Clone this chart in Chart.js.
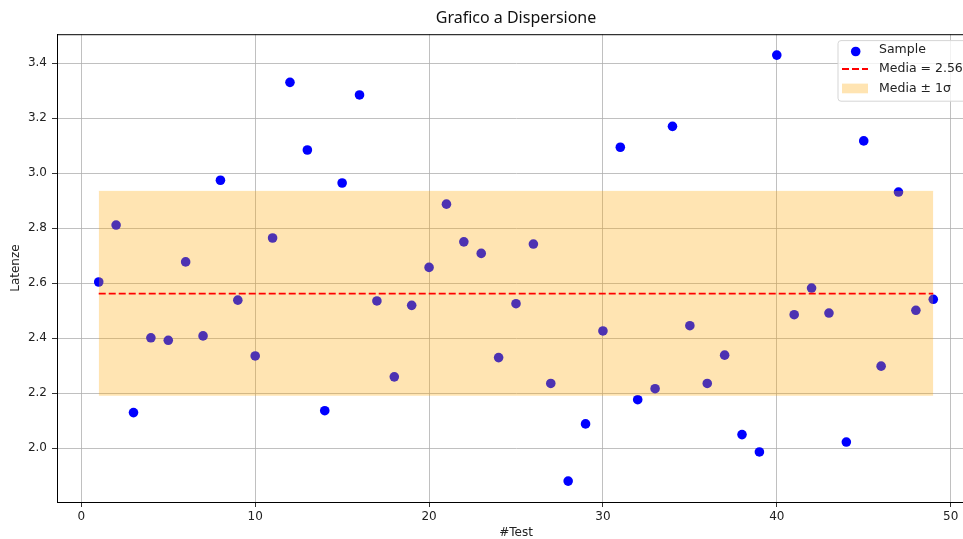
<!DOCTYPE html>
<html>
<head>
<meta charset="utf-8">
<title>Grafico a Dispersione</title>
<script src="https://cdn.jsdelivr.net/npm/chart.js"></script>
<style>
  html, body { margin: 0; padding: 0; background: #fff; overflow: hidden; }
  #wrap { width: 963px; height: 539px; overflow: hidden; }
  canvas { display: block; }
</style>
</head>
<body>
<div id="wrap"><canvas id="chart" width="1032" height="539"></canvas></div>
<script>
const testIds = [1, 2, 3, 4, 5, 6, 7, 8, 9, 10, 11, 12, 13, 14, 15, 16, 17, 18, 19, 20,
                 21, 22, 23, 24, 25, 26, 27, 28, 29, 30, 31, 32, 33, 34, 35, 36, 37, 38, 39, 40,
                 41, 42, 43, 44, 45, 46, 47, 48, 49];
const latenze = [2.605, 2.812, 2.130, 2.402, 2.393, 2.678, 2.409, 2.975, 2.539, 2.336,
                 2.765, 3.331, 3.085, 2.137, 2.965, 3.285, 2.536, 2.260, 2.520, 2.658,
                 2.888, 2.751, 2.709, 2.330, 2.526, 2.743, 2.236, 1.881, 2.089, 2.427,
                 3.095, 2.177, 2.217, 3.171, 2.446, 2.236, 2.339, 2.050, 1.987, 3.430,
                 2.486, 2.583, 2.492, 2.023, 3.118, 2.299, 2.932, 2.502, 2.542];
const media = 2.563;
const sigma = 0.372;
const xTicks = [0, 10, 20, 30, 40, 50];
const yTicks = [2.0, 2.2, 2.4, 2.6, 2.8, 3.0, 3.2, 3.4];

const FONT = "'DejaVu Sans', sans-serif";
const DASH = [7, 3];
const first = testIds[0], last = testIds[testIds.length - 1];

const frameAndLegend = {
    id: 'frameAndLegend',
    afterDraw(chart) {
        const ctx = chart.ctx;
        const a = chart.chartArea;
        ctx.save();
        // cornice (spine) sopra e a destra
        ctx.strokeStyle = '#000';
        ctx.lineWidth = 1;
        ctx.strokeRect(a.left + 0.5, a.top + 0.5, a.right - a.left - 1, a.bottom - a.top);

        // legenda in alto a destra
        const w = 130, h = 60.6;
        const x = a.right - 7 - w, y = a.top + 6.4;
        ctx.beginPath();
        ctx.roundRect(x, y, w, h, 3);
        ctx.fillStyle = 'rgba(255,255,255,0.8)';
        ctx.fill();
        ctx.strokeStyle = '#d5d5d5';
        ctx.stroke();

        const ds = chart.data.datasets;
        const rows = [y + 9.4, y + 28.4, y + 47.8];
        // Sample
        ctx.beginPath();
        ctx.arc(x + 17.7, rows[0] + 1.5, 4.8, 0, Math.PI * 2);
        ctx.fillStyle = '#0000ff';
        ctx.fill();
        // media
        ctx.beginPath();
        ctx.setLineDash(DASH);
        ctx.strokeStyle = '#ff0000';
        ctx.lineWidth = 1.8;
        ctx.moveTo(x + 4, rows[1]);
        ctx.lineTo(x + 30, rows[1]);
        ctx.stroke();
        ctx.setLineDash([]);
        // banda
        ctx.fillStyle = 'rgba(255,165,0,0.3)';
        ctx.fillRect(x + 4, rows[2] - 4.8, 26, 9.7);

        ctx.fillStyle = '#222';
        ctx.font = '12.5px ' + FONT;
        ctx.textBaseline = 'middle';
        ctx.textAlign = 'left';
        ctx.fillText(ds[0].label, x + 41, rows[0]);
        ctx.fillText(ds[2].label, x + 41, rows[1]);
        ctx.fillText(ds[1].label, x + 41, rows[2]);
        ctx.restore();
    }
};

new Chart(document.getElementById('chart'), {
    type: 'scatter',
    data: {
        datasets: [{
            label: 'Sample',
            data: testIds.map((t, i) => ({ x: t, y: latenze[i] })),
            backgroundColor: '#0000ff',
            borderWidth: 0,
            pointRadius: 4.8,
            order: 2
        }, {
            label: 'Media \u00b1 1\u03c3',
            type: 'line',
            data: [{ x: first, y: media + sigma }, { x: last, y: media + sigma }],
            fill: { value: media - sigma },
            backgroundColor: 'rgba(255,165,0,0.3)',
            borderColor: 'rgba(255,165,0,0.15)',
            borderWidth: 1,
            pointRadius: 0,
            order: 1
        }, {
            label: 'Media = ' + media.toFixed(2),
            type: 'line',
            data: [{ x: first, y: media }, { x: last, y: media }],
            borderColor: '#ff0000',
            borderWidth: 1.8,
            borderDash: DASH,
            pointRadius: 0,
            fill: false,
            order: 0
        }]
    },
    options: {
        responsive: false,
        devicePixelRatio: 1,
        animation: false,
        events: [],
        layout: { padding: 0 },
        plugins: {
            legend: { display: false },
            tooltip: { enabled: false },
            title: {
                display: true,
                text: 'Grafico a Dispersione',
                color: '#111',
                font: { family: "'Noto Sans', sans-serif", size: 16, weight: 'normal' },
                padding: { top: 9, bottom: 6 }
            }
        },
        scales: {
            x: {
                type: 'linear',
                min: -1.4,
                max: 51.4,
                afterBuildTicks: s => { s.ticks = xTicks.map(v => ({ value: v })); },
                grid: { color: '#b0b0b0', lineWidth: 0.8, tickColor: '#000', tickLength: 5 },
                border: { color: '#000', width: 1 },
                ticks: { color: '#222', font: { family: FONT, size: 12 }, padding: 2.5, maxRotation: 0 },
                title: { display: true, text: '#Test', color: '#222', font: { family: FONT, size: 12, lineHeight: 1.05 }, padding: { top: 0, bottom: 0 } }
            },
            y: {
                min: 1.805,
                max: 3.506,
                afterBuildTicks: s => { s.ticks = yTicks.map(v => ({ value: v })); },
                afterFit: s => { s.width = 57; },
                grid: { color: '#b0b0b0', lineWidth: 0.8, tickColor: '#000', tickLength: 5 },
                border: { color: '#000', width: 1 },
                ticks: { color: '#222', font: { family: FONT, size: 12 }, padding: 5, callback: v => v.toFixed(1) },
                title: { display: true, text: 'Latenze', color: '#222', font: { family: FONT, size: 12 }, padding: { top: 9, bottom: 0 } }
            },
            yRight: {
                position: 'right',
                min: 0,
                max: 1,
                afterFit: s => { s.width = 57; },
                grid: { display: false },
                border: { display: false },
                ticks: { display: false }
            }
        }
    },
    plugins: [frameAndLegend]
});
</script>
</body>
</html>
